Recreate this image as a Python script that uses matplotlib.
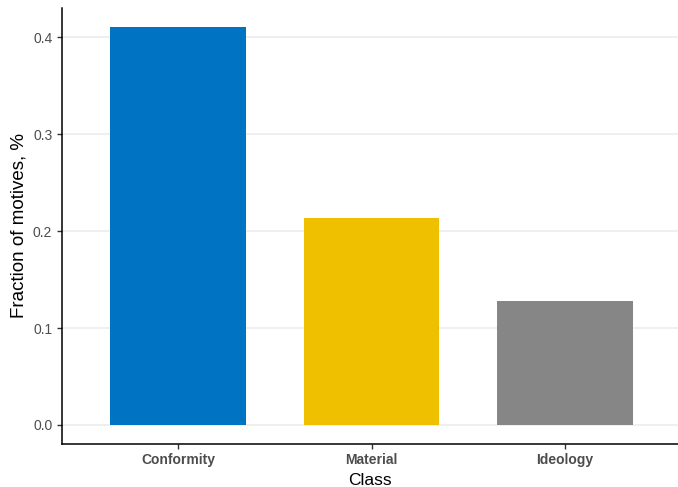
import matplotlib
matplotlib.use("Agg")
import matplotlib.pyplot as plt

plt.rcParams['font.family'] = ['Liberation Sans', 'DejaVu Sans']

classes = ['Conformity', 'Material', 'Ideology']
fraction = [0.410, 0.213, 0.128]
colors = ['#0073C2', '#EFC000', '#868686']
yticks = [0.0, 0.1, 0.2, 0.3, 0.4]

fig = plt.figure(figsize=(6.78, 4.87), dpi=100)
ax = fig.add_axes([62 / 678, 1 - 444 / 487, 616 / 678, 436 / 487])

pos = list(range(1, len(classes) + 1))
ax.bar(pos, fraction, width=0.7, color=colors, zorder=2)

ax.set_xlim(0.4, 3.584)
ax.set_ylim(-0.0196, 0.43)
ax.set_yticks(yticks)
ax.set_yticklabels(['%.1f' % v for v in yticks])
ax.set_xticks(pos)
ax.set_xticklabels(classes, fontweight='bold')
ax.yaxis.grid(True, color='#EBEBEB', linewidth=1.1, zorder=0)
ax.set_axisbelow(True)

for side in ['top', 'right']:
    ax.spines[side].set_visible(False)
for side in ['left', 'bottom']:
    ax.spines[side].set_linewidth(1.1)
    ax.spines[side].set_color('black')

ax.tick_params(axis='both', colors='#333333', labelcolor='#4D4D4D',
               labelsize=10, length=3.5, width=1.0)
ax.tick_params(axis='x', pad=3)

ax.set_xlabel('Class', fontsize=12.5, labelpad=4.5)
ax.set_ylabel('Fraction of motives, %', fontsize=13.5, labelpad=4)

fig.savefig('out.png', dpi=100)
